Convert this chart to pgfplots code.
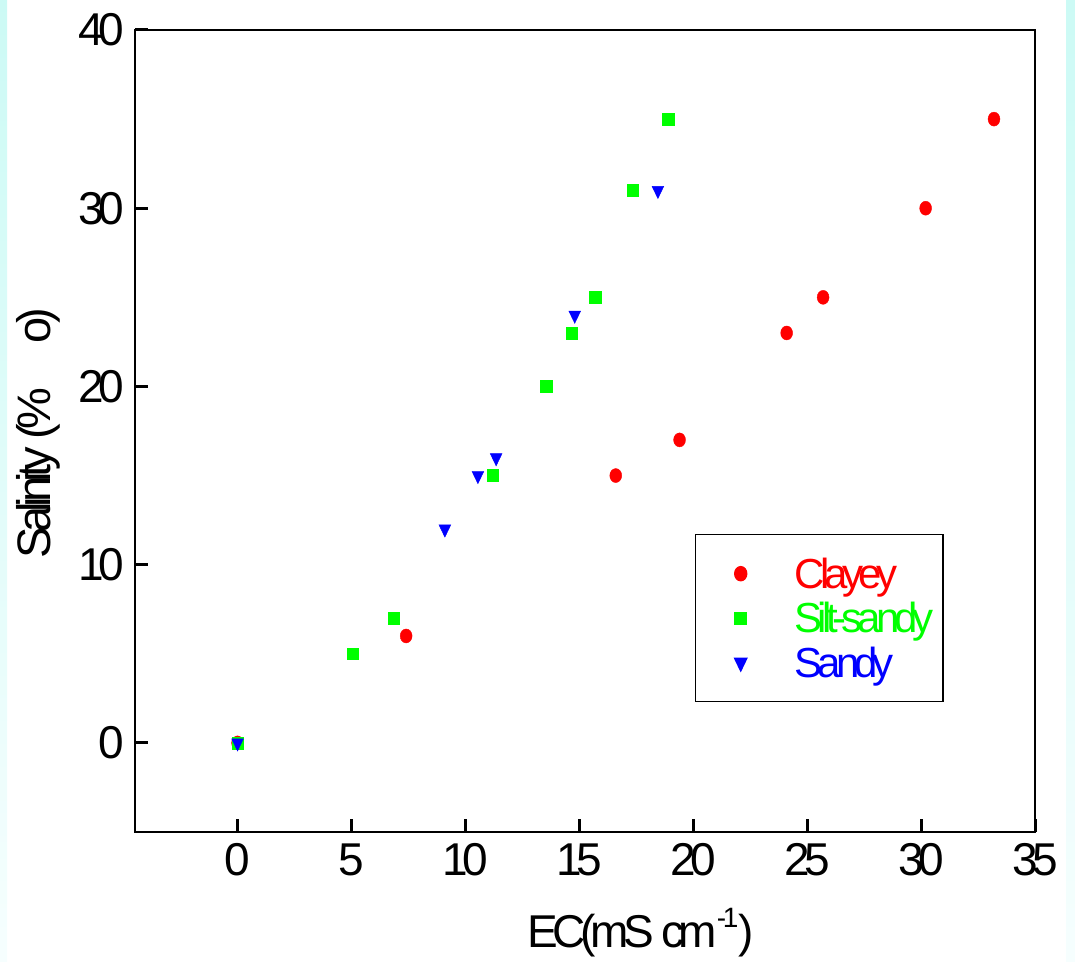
\documentclass[border=0pt]{standalone}
\usepackage{fontspec}
\setmainfont[LetterSpace=-12]{Liberation Sans}
\usepackage{pgfplots}
\pgfplotsset{compat=1.18}
\definecolor{bgcyan}{RGB}{204,250,245}
\definecolor{bglight}{RGB}{246,254,254}
\begin{document}
\begin{tikzpicture}[x=1pt,y=1pt]
\path[use as bounding box] (0,0) rectangle (1075,961);
\shade[top color=bgcyan, bottom color=bglight] (0,0) rectangle (7,961);
\shade[top color=bgcyan, bottom color=bglight] (1066,0) rectangle (1075,961);
\begin{axis}[
  at={(135pt,129pt)}, anchor=south west,
  width=900pt, height=802pt, scale only axis,
  xmin=-4.5, xmax=35, ymin=-5, ymax=40,
  xtick={0,5,...,35}, ytick={0,10,...,40},
  tick align=inside, xtick pos=bottom, ytick pos=left,
  major tick length=13pt,
  every tick/.style={line width=3pt, black},
  axis line style={line width=2.6pt},
  /pgf/number format/assume math mode=true,
  tick label style={font=\fontsize{46}{46}\selectfont},
  xticklabel style={yshift=-8pt},
  yticklabel style={xshift=-7pt},
  xlabel={EC(mS cm\raisebox{0.42em}{\fontsize{28}{28}\selectfont -1})},
  ylabel={Salinity (\%\hspace{44pt}o)},
  xlabel style={font=\fontsize{46}{46}\selectfont, at={(axis description cs:0.562,-0.1434)}, anchor=base},
  ylabel style={font=\fontsize{47}{47}\selectfont, at={(axis description cs:-0.0944,0.4975)}, anchor=base, rotate=0},
  legend style={at={(axis description cs:0.6222,0.3716)}, anchor=north west,
    draw=black, line width=1.5pt, inner xsep=7pt, inner ysep=21pt,
    nodes={inner sep=2pt, font=\fontsize{42}{42}\selectfont}, row sep=8.5pt},
  legend cell align=left,
  legend image code/.code={\path[draw=none] (-38pt,0pt) -- (52pt,0pt); \draw[#1] plot coordinates {(0pt,0pt)};},
]
\addplot[only marks, mark=*, color=red, mark options={fill=red, draw=red, xscale=0.85, yscale=1.0}, mark size=7pt]
coordinates {(0,0) (7.4,6) (16.6,15) (19.4,17) (24.1,23) (25.7,25) (30.2,30) (33.2,35)};
\addlegendentry{\textcolor{red}{Clayey}}
\addplot[only marks, mark=square*, color=green, mark options={fill=green, draw=green, yscale=1.05}, mark size=5.6pt]
coordinates {(0,0) (5.05,5) (6.85,7) (11.2,15) (13.55,20) (14.65,23) (15.7,25) (17.35,31) (18.9,35)};
\addlegendentry{\textcolor{green}{Silt-sandy}}
\addplot[only marks, mark=triangle*, color=blue, mark options={fill=blue, draw=blue, rotate=180, yscale=1.2}, mark size=6.8pt]
coordinates {(0,0) (9.1,12) (10.55,15) (11.35,16) (14.8,24) (18.45,31)};
\addlegendentry{\textcolor{blue}{Sandy}}
\end{axis}
\end{tikzpicture}
\end{document}
